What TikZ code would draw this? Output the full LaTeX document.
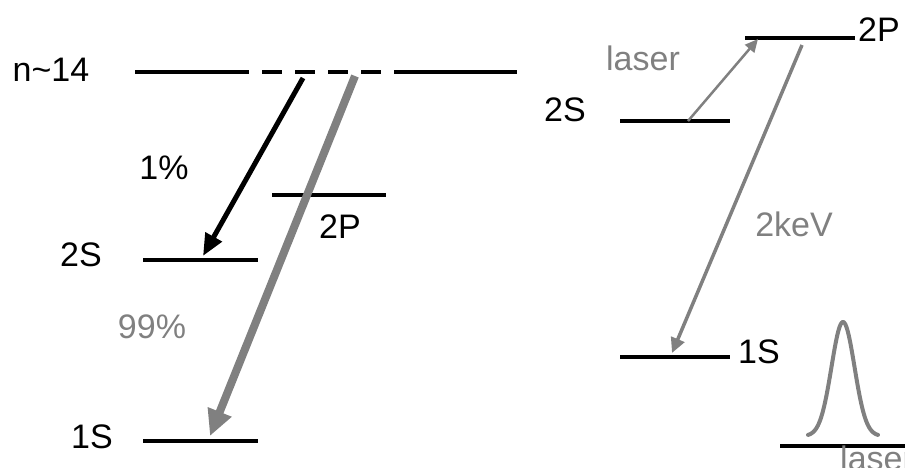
\documentclass[tikz,border=0pt]{standalone}
\usepackage{fontspec}
\setmainfont{Liberation Sans}
\usetikzlibrary{arrows.meta}
\definecolor{gr}{RGB}{128,128,128}
\tikzset{
  lvl/.style={line width=4pt},
  lbl/.style={font=\fontsize{34}{38}\selectfont, inner sep=0pt},
  glbl/.style={lbl, text=gr},
}
\begin{document}
\begin{tikzpicture}[x=1pt,y=-1pt]
\useasboundingbox (0,0) rectangle (905,467);
% left diagram levels
\coordinate (nA) at (135,72); \coordinate (nB) at (249,72);
\coordinate (nC) at (398,72); \coordinate (nD) at (517,72);
\draw[lvl] (nA) -- (nB);
\draw[lvl, dash pattern=on 20pt off 13pt] ([xshift=13pt]nB) -- (nC);
\draw[lvl] (nC) -- (nD);
\coordinate (pA) at (272,195); \coordinate (pB) at (386,195);
\draw[lvl] (pA) -- (pB);
\coordinate (sA) at (143,260); \coordinate (sB) at (258,260);
\draw[lvl] (sA) -- (sB);
\coordinate (oA) at (143,441); \coordinate (oB) at (258,441);
\draw[lvl] (oA) -- (oB);
\node[lbl] (ln) at (51,70) {n\textasciitilde14};
\node[lbl] (l1) at (164,168) {1\%};
\node[lbl] (l2P) at (340,227) {2P};
\node[lbl] (l2S) at (81,255) {2S};
\node[glbl] (l99) at (152,327) {99\%};
\node[lbl] (l1S) at (92,437) {1S};
% arrows left
\coordinate (a1s) at (303,78); \coordinate (a1e) at (203,256);
\draw[line width=5pt, -{Triangle[length=22pt,width=18pt]}] (a1s) -- (a1e);
\coordinate (a2s) at (355,76); \coordinate (a2e) at (210,436);
\draw[line width=8pt, gr, -{Triangle[length=26pt,width=24pt]}] (a2s) -- (a2e);
% right diagram
\coordinate (rpA) at (745,38); \coordinate (rpB) at (855,38);
\draw[lvl] (rpA) -- (rpB);
\coordinate (rsA) at (620,121); \coordinate (rsB) at (730,121);
\draw[lvl] (rsA) -- (rsB);
\coordinate (roA) at (620,357); \coordinate (roB) at (730,357);
\draw[lvl] (roA) -- (roB);
\node[lbl] (r2P) at (879,30) {2P};
\node[lbl] (r2S) at (565,110) {2S};
\node[lbl] (r1S) at (759,352) {1S};
\node[glbl] (rlas) at (643,58) {laser};
\node[glbl] (rkev) at (794,224) {2keV};
\coordinate (l3s) at (688,121); \coordinate (l3e) at (758,39);
\draw[line width=2.5pt, gr, -{Triangle[length=13pt,width=12pt]}] (l3s) -- (l3e);
\coordinate (l4s) at (802,45); \coordinate (l4e) at (672,353);
\draw[line width=3.5pt, gr, -{Triangle[length=15pt,width=14pt]}] (l4s) -- (l4e);
% gaussian
\draw[line width=4pt, gr, line cap=round] plot[domain=-35:35, samples=80, smooth] ({843+\x},{436-114*exp(-(\x*\x)/(2*11.5*11.5))});
\coordinate (bA) at (780,446); \coordinate (bB) at (905,446);
\draw[lvl] (bA) -- (bB);
\node[glbl, anchor=base west] (blas) at (840,470) {laser};
\end{tikzpicture}
\end{document}
